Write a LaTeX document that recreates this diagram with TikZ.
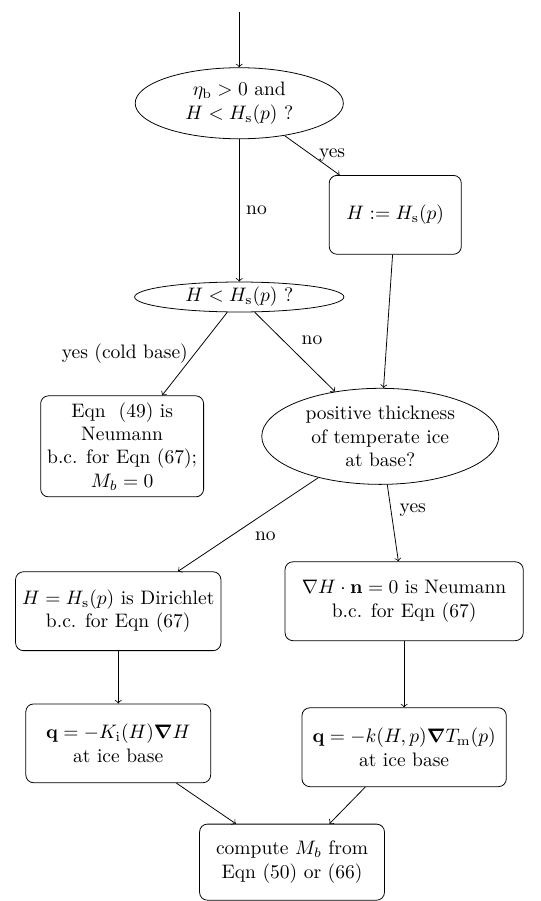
\documentclass[tikz,border=0pt]{standalone}
\usepackage{amsmath}
\usepackage{amssymb}
\usepackage{tikz}
\usetikzlibrary{shapes.geometric}

\begin{document}
\begin{tikzpicture}[
    decision/.style={draw,ellipse,inner sep=0pt,align=center},
    box/.style={draw,rectangle,rounded corners,align=center,minimum height=1.42cm},
    flow/.style={->}
  ]
  \useasboundingbox (0,0) rectangle (9.73,-16.23);

  \coordinate (start) at (4.31,-0.22);
  \node[decision,minimum width=3.75cm,minimum height=1.28cm] (cond) at (4.31,-1.86)
    {$\eta_{\mathrm{b}}>0$ and\\ $H<H_{\mathrm{s}}(p)$ ?};
  \node[box,minimum width=2.38cm] (setH) at (7.12,-3.87) {$H:=H_{\mathrm{s}}(p)$};
  \node[decision,minimum width=3.77cm,minimum height=0.54cm] (cold) at (4.31,-5.35)
    {$H<H_{\mathrm{s}}(p)$ ?};
  \node[box,minimum width=2.90cm,minimum height=1.82cm] (coldbc) at (2.20,-8.04)
    {Eqn\ \ (49) is\\ Neumann\\ b.c. for Eqn (67);\\ $M_b=0$};
  \node[decision,minimum width=4.27cm,minimum height=1.73cm] (temp) at (6.85,-7.86)
    {positive thickness\\ of temperate ice\\ at base?};
  \node[box,minimum width=3.68cm] (dirich) at (2.13,-11.01)
    {$H=H_{\mathrm{s}}(p)$ is Dirichlet\\ b.c. for Eqn (67)};
  \node[box,minimum width=4.29cm] (neum) at (7.28,-10.83)
    {$\nabla H\cdot\mathbf{n}=0$ is Neumann\\ b.c. for Eqn (67)};
  \node[box,minimum width=3.33cm] (fluxA) at (2.13,-13.39)
    {$\mathbf{q}=-K_{\mathrm{i}}(H)\boldsymbol{\nabla} H$\\ at ice base};
  \node[box,minimum width=3.68cm] (fluxB) at (7.28,-13.46)
    {$\mathbf{q}=-k(H,p)\boldsymbol{\nabla} T_{\mathrm{m}}(p)$\\ at ice base};
  \node[box,minimum width=3.33cm,minimum height=1.37cm] (melt) at (5.26,-15.53)
    {compute $M_b$ from\\ Eqn (50) or (66)};

  \draw[flow] (start) -- (cond);
  \draw[flow] (cond) -- node[right] {yes} (setH);
  \draw[flow] (cond) -- node[right] {no} (cold);
  \draw[flow] (cold) -- node[left] {yes (cold base)} (coldbc);
  \draw[flow] (cold) -- node[above right] {no} (temp);
  \draw[flow] (setH) -- (temp);
  \draw[flow] (temp) -- node[below right] {no} (dirich);
  \draw[flow] (temp) -- node[above right] {yes} (neum);
  \draw[flow] (dirich) -- (fluxA);
  \draw[flow] (neum) -- (fluxB);
  \draw[flow] (fluxA) -- (melt);
  \draw[flow] (fluxB) -- (melt);
\end{tikzpicture}
\end{document}
